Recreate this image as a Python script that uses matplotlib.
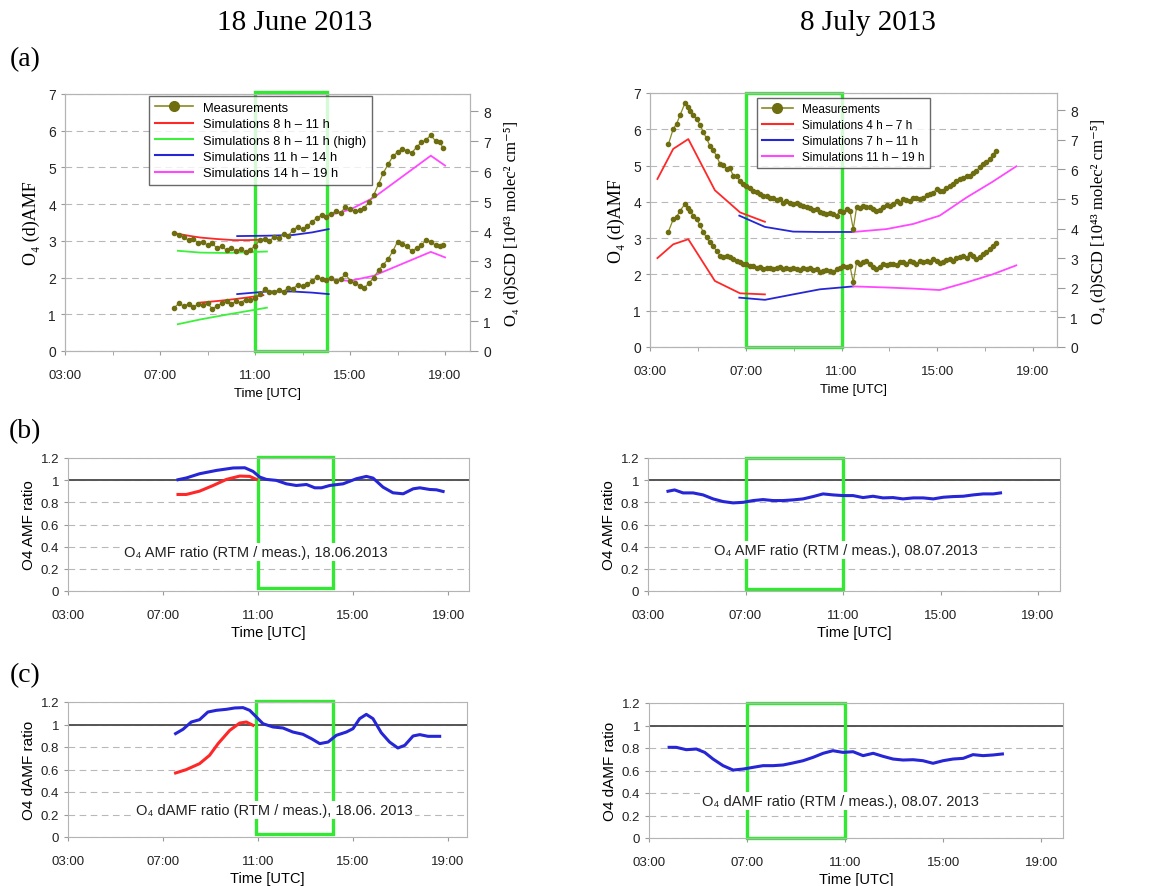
import matplotlib
matplotlib.use("Agg")
import matplotlib.pyplot as plt
from matplotlib.lines import Line2D
from matplotlib.patches import Rectangle

W, H = 1149, 887

# ---------------------------------------------------------------------------
# Data (hours UTC)
# ---------------------------------------------------------------------------
# (a) 18 June 2013 - measurements
jun_t = [7.6, 7.8, 8.0, 8.2, 8.4, 8.6, 8.8, 9.0, 9.2, 9.4, 9.6, 9.8, 10.0, 10.2,
         10.4, 10.6, 10.8, 11.0, 11.2, 11.4, 11.6, 11.8, 12.0, 12.2, 12.4, 12.6,
         12.8, 13.0, 13.2, 13.4, 13.6, 13.8, 14.0, 14.2, 14.4, 14.6, 14.8, 15.0,
         15.2, 15.4, 15.6, 15.8, 16.0, 16.2, 16.4, 16.6, 16.8, 17.0, 17.2, 17.4,
         17.6, 17.8, 18.0, 18.2, 18.4, 18.6, 18.8, 18.9]
jun_meas_hi = [3.22, 3.15, 3.10, 3.02, 3.05, 2.95, 2.98, 2.88, 2.93, 2.80, 2.86,
               2.74, 2.80, 2.72, 2.78, 2.70, 2.76, 2.86, 3.02, 3.06, 3.00, 3.10,
               3.08, 3.18, 3.14, 3.30, 3.38, 3.32, 3.40, 3.52, 3.62, 3.70, 3.66,
               3.74, 3.80, 3.76, 3.92, 3.86, 3.80, 3.84, 3.90, 4.05, 4.25, 4.55,
               4.85, 5.08, 5.30, 5.42, 5.50, 5.45, 5.40, 5.55, 5.68, 5.75, 5.88,
               5.72, 5.70, 5.52]
jun_meas_lo = [1.18, 1.30, 1.22, 1.28, 1.20, 1.27, 1.25, 1.30, 1.15, 1.22, 1.30,
               1.36, 1.28, 1.35, 1.32, 1.40, 1.38, 1.45, 1.55, 1.68, 1.62, 1.60,
               1.66, 1.62, 1.72, 1.70, 1.80, 1.76, 1.82, 1.90, 2.02, 1.96, 1.94,
               1.98, 1.90, 1.95, 2.10, 1.92, 1.85, 1.78, 1.72, 1.85, 2.00, 2.20,
               2.35, 2.50, 2.72, 2.98, 2.92, 2.85, 2.72, 2.80, 2.88, 3.02, 2.98,
               2.88, 2.85, 2.88]

# (a) 18 June 2013 - simulations
jun_red_t = [7.6, 8.2, 8.7, 9.4, 10.1, 10.7, 11.2]
jun_red_hi = [3.21, 3.14, 3.09, 3.05, 3.02, 3.02, 3.03]
jun_red_lo_t = [8.7, 9.4, 10.1, 10.7, 11.35]
jun_red_lo = [1.32, 1.36, 1.41, 1.46, 1.52]
jun_grn_t = [7.75, 8.7, 9.8, 10.7, 11.5]
jun_grn_hi = [2.73, 2.68, 2.67, 2.69, 2.71]
jun_grn_lo = [0.73, 0.86, 0.99, 1.09, 1.18]
jun_blu_t = [10.25, 11.5, 12.6, 13.4, 14.1]
jun_blu_hi = [3.13, 3.14, 3.16, 3.23, 3.32]
jun_blu_lo = [1.55, 1.62, 1.62, 1.59, 1.55]
jun_mag_t = [14.1, 15.0, 16.0, 18.4, 19.0]
jun_mag_hi = [3.70, 3.85, 4.18, 5.32, 5.05]
jun_mag_lo = [1.95, 1.91, 2.05, 2.70, 2.55]

# (a) 8 July 2013 - measurements
jul_t = [3.77, 3.97, 4.11, 4.25, 4.46, 4.60, 4.67, 4.81, 4.95, 5.09, 5.23, 5.36,
         5.50, 5.64, 5.78, 5.92, 6.06, 6.20, 6.34, 6.48, 6.62, 6.76, 6.90, 7.03,
         7.17, 7.31, 7.45, 7.59, 7.73, 7.87, 8.01, 8.15, 8.29, 8.43, 8.57, 8.70,
         8.84, 8.98, 9.12, 9.26, 9.40, 9.54, 9.68, 9.82, 9.96, 10.10, 10.23,
         10.37, 10.51, 10.65, 10.79, 10.93, 11.07, 11.21, 11.35, 11.49, 11.63,
         11.77, 11.90, 12.04, 12.18, 12.32, 12.46, 12.60, 12.74, 12.88, 13.02,
         13.16, 13.30, 13.43, 13.57, 13.71, 13.85, 13.99, 14.13, 14.27, 14.41,
         14.55, 14.69, 14.83, 14.97, 15.10, 15.24, 15.38, 15.52, 15.66, 15.80,
         15.94, 16.08, 16.22, 16.36, 16.50, 16.63, 16.77, 16.91, 17.05, 17.19,
         17.33, 17.44]
jul_meas_hi = [5.59, 6.01, 6.15, 6.38, 6.72, 6.62, 6.51, 6.40, 6.28, 6.12, 5.92,
               5.75, 5.55, 5.42, 5.27, 5.05, 5.01, 4.90, 4.92, 4.72, 4.70, 4.58,
               4.50, 4.44, 4.38, 4.31, 4.26, 4.21, 4.15, 4.17, 4.10, 4.12, 4.05,
               4.09, 3.98, 4.03, 3.98, 3.94, 3.96, 3.91, 3.88, 3.85, 3.82, 3.78,
               3.80, 3.71, 3.70, 3.66, 3.70, 3.66, 3.62, 3.75, 3.72, 3.80, 3.75,
               3.25, 3.85, 3.82, 3.89, 3.86, 3.85, 3.80, 3.75, 3.78, 3.85, 3.92,
               3.89, 3.95, 4.03, 3.98, 4.08, 4.05, 4.03, 4.10, 4.12, 4.08, 4.12,
               4.18, 4.21, 4.25, 4.35, 4.30, 4.31, 4.38, 4.44, 4.50, 4.58, 4.62,
               4.67, 4.70, 4.72, 4.80, 4.86, 4.95, 5.04, 5.10, 5.18, 5.30, 5.41]
jul_meas_lo = [3.18, 3.52, 3.58, 3.75, 3.94, 3.82, 3.75, 3.62, 3.52, 3.35, 3.16,
               3.02, 2.88, 2.78, 2.65, 2.52, 2.47, 2.50, 2.47, 2.42, 2.37, 2.33,
               2.28, 2.30, 2.24, 2.22, 2.19, 2.20, 2.14, 2.18, 2.19, 2.15, 2.19,
               2.21, 2.14, 2.17, 2.14, 2.18, 2.14, 2.12, 2.19, 2.16, 2.19, 2.13,
               2.14, 2.08, 2.10, 2.13, 2.10, 2.06, 2.14, 2.18, 2.24, 2.20, 2.24,
               1.78, 2.33, 2.30, 2.33, 2.36, 2.28, 2.20, 2.14, 2.20, 2.28, 2.25,
               2.30, 2.28, 2.26, 2.33, 2.35, 2.30, 2.37, 2.34, 2.30, 2.36, 2.35,
               2.38, 2.33, 2.42, 2.38, 2.32, 2.35, 2.40, 2.42, 2.38, 2.45, 2.48,
               2.51, 2.46, 2.56, 2.50, 2.42, 2.48, 2.56, 2.62, 2.70, 2.78, 2.86]

# (a) 8 July 2013 - simulations
jul_red_t = [3.31, 3.97, 4.60, 5.71, 6.76, 7.80]
jul_red_hi = [4.63, 5.46, 5.73, 4.32, 3.71, 3.45]
jul_red_lo = [2.45, 2.83, 2.97, 1.82, 1.48, 1.45]
jul_blu_t = [6.73, 7.80, 8.98, 10.10, 11.49]
jul_blu_hi = [3.62, 3.31, 3.18, 3.17, 3.17]
jul_blu_lo = [1.36, 1.30, 1.45, 1.59, 1.67]
jul_mag_t = [11.49, 12.88, 13.99, 15.10, 16.22, 17.30, 18.30]
jul_mag_hi = [3.17, 3.25, 3.39, 3.62, 4.12, 4.55, 4.98]
jul_mag_lo = [1.67, 1.64, 1.61, 1.57, 1.78, 2.00, 2.25]

# (b) AMF ratio
b_jun_blu_t = [7.63, 7.98, 8.54, 9.25, 9.95, 10.44, 10.79, 11.07, 11.35, 11.77,
               12.19, 12.61, 13.04, 13.39, 13.67, 14.02, 14.58, 15.14, 15.56,
               15.84, 16.26, 16.68, 17.11, 17.53, 17.81, 18.23, 18.51, 18.79]
b_jun_blu = [1.004, 1.02, 1.058, 1.088, 1.11, 1.112, 1.079, 1.028, 1.007, 0.998,
             0.967, 0.952, 0.961, 0.931, 0.931, 0.952, 0.967, 1.013, 1.034,
             1.019, 0.937, 0.886, 0.877, 0.922, 0.931, 0.916, 0.913, 0.898]
b_jun_red_t = [7.63, 7.98, 8.54, 9.11, 9.67, 10.23, 10.65, 10.93]
b_jun_red = [0.871, 0.871, 0.901, 0.952, 1.007, 1.037, 1.034, 1.007]
b_jul_t = [3.82, 4.09, 4.44, 4.85, 5.26, 5.67, 6.08, 6.49, 6.90, 7.31, 7.72,
           8.13, 8.54, 8.95, 9.36, 9.77, 10.18, 10.59, 10.99, 11.41, 11.82,
           12.23, 12.64, 13.05, 13.46, 13.88, 14.29, 14.70, 15.11, 15.52, 15.93,
           16.34, 16.75, 17.16, 17.46]
b_jul = [0.90, 0.912, 0.885, 0.885, 0.867, 0.831, 0.807, 0.795, 0.80, 0.816,
         0.825, 0.816, 0.816, 0.822, 0.831, 0.852, 0.876, 0.867, 0.861, 0.861,
         0.843, 0.855, 0.840, 0.843, 0.831, 0.840, 0.840, 0.831, 0.846, 0.852,
         0.855, 0.867, 0.876, 0.876, 0.885]

# (c) dAMF ratio
c_jun_blu_t = [7.53, 7.84, 8.19, 8.54, 8.89, 9.25, 9.67, 10.02, 10.37, 10.65,
               10.93, 11.21, 11.63, 12.05, 12.47, 12.89, 13.25, 13.60, 13.95,
               14.30, 14.72, 15.00, 15.28, 15.56, 15.84, 16.19, 16.54, 16.89,
               17.18, 17.53, 17.81, 18.16, 18.65]
c_jun_blu = [0.919, 0.957, 1.022, 1.043, 1.111, 1.126, 1.135, 1.147, 1.150,
             1.126, 1.067, 1.007, 0.978, 0.969, 0.933, 0.913, 0.874, 0.830,
             0.844, 0.904, 0.933, 0.963, 1.052, 1.090, 1.052, 0.927, 0.844,
             0.791, 0.815, 0.898, 0.910, 0.895, 0.895]
c_jun_red_t = [7.53, 7.98, 8.54, 8.96, 9.32, 9.81, 10.23, 10.51, 10.79]
c_jun_red = [0.569, 0.599, 0.652, 0.726, 0.830, 0.948, 1.013, 1.022, 0.993]
c_jul_t = [3.82, 4.11, 4.52, 4.93, 5.27, 5.61, 6.02, 6.43, 6.84, 7.24, 7.65,
           8.06, 8.47, 8.87, 9.28, 9.69, 10.10, 10.50, 10.91, 11.32, 11.73,
           12.14, 12.54, 12.95, 13.36, 13.77, 14.17, 14.58, 14.99, 15.40, 15.81,
           16.21, 16.62, 17.03, 17.41]
c_jul = [0.806, 0.806, 0.785, 0.791, 0.761, 0.702, 0.643, 0.604, 0.613, 0.628,
         0.643, 0.643, 0.649, 0.667, 0.687, 0.717, 0.753, 0.776, 0.761, 0.767,
         0.732, 0.753, 0.726, 0.702, 0.693, 0.696, 0.687, 0.664, 0.687, 0.702,
         0.708, 0.741, 0.732, 0.738, 0.747]

hour_ticks = [3, 7, 11, 15, 19]
hour_labels = ["03:00", "07:00", "11:00", "15:00", "19:00"]
ratio_ticks = [0, 0.2, 0.4, 0.6, 0.8, 1.0, 1.2]
ratio_labels = ["0", "0.2", "0.4", "0.6", "0.8", "1", "1.2"]

# ---------------------------------------------------------------------------
# Style
# ---------------------------------------------------------------------------
SANS = ["Liberation Sans", "DejaVu Sans"]
SERIF = ["Liberation Serif", "DejaVu Serif"]
plt.rcParams.update({
    "font.family": SANS,
    "axes.edgecolor": "#b4b4b4",
    "xtick.color": "#9a9a9a",
    "ytick.color": "#9a9a9a",
    "xtick.labelcolor": "#222222",
    "ytick.labelcolor": "#222222",
    "xtick.major.size": 3,
    "ytick.major.size": 3,
    "xtick.minor.size": 3,
})

C_MEAS = "#8a8a22"
C_MEAS_DOT = "#6e6e10"
C_RED = "#ff2828"
C_GREEN = "#3cf03c"
C_BLUE = "#2626d6"
C_MAG = "#ff48ff"
C_BOX = "#33e833"
GRID = dict(color="#b8b8b8", linestyle=(0, (6, 4)), linewidth=0.8)


def px_axes(x0, y0, x1, y1):
    return fig.add_axes([x0 / W, 1 - y1 / H, (x1 - x0) / W, (y1 - y0) / H])


def green_box(ax, x0, x1, y0, y1):
    ax.add_patch(Rectangle((x0, y0), x1 - x0, y1 - y0, fill=False,
                           edgecolor=C_BOX, linewidth=2.4, clip_on=False,
                           zorder=2))


def meas(ax, t, v):
    ax.plot(t, v, color=C_MEAS, linewidth=0.9, marker="o", markersize=3.0,
            markerfacecolor=C_MEAS_DOT, markeredgecolor=C_MEAS_DOT, zorder=4)


def panel_a(ax, xmax, sims, legend_labels, legend_xy, leg_fs, leg_hl):
    ax.set_xlim(3, xmax)
    ax.set_ylim(0, 7)
    ax.set_yticks(range(8))
    ax.set_xticks(hour_ticks)
    ax.set_xticklabels(hour_labels, fontsize=9.5)
    ax.set_xticks([5, 9, 13, 17], minor=True)
    ax.tick_params(axis="x", which="major", pad=10)
    ax.tick_params(axis="y", labelsize=10)
    ax.yaxis.grid(True, **GRID)
    ax.set_axisbelow(True)
    ax.set_xlabel("Time [UTC]", fontsize=9.5, labelpad=4)
    ax.set_ylabel("O\u2084 (d)AMF", family=SERIF, fontsize=13, labelpad=6)
    for t, v, c in sims:
        ax.plot(t, v, color=c, linewidth=1.3, zorder=3)
    axr = ax.twinx()
    axr.set_ylim(0, 8.58)
    axr.set_yticks(range(9))
    axr.tick_params(axis="y", labelsize=10, length=6)
    axr.spines["right"].set_color("#b4b4b4")
    axr.set_ylabel("O\u2084 (d)SCD [10\u2074\u00b3 molec\u00b2 cm\u207b\u2075]",
                   family=SERIF, fontsize=12, labelpad=9)
    handles = [Line2D([], [], color=C_MEAS, linewidth=1.2, marker="o",
                      markersize=7, markerfacecolor=C_MEAS_DOT,
                      markeredgecolor=C_MEAS_DOT)]
    for lab, c in legend_labels:
        handles.append(Line2D([], [], color=c, linewidth=1.5))
    leg = ax.legend(handles, ["Measurements"] + [l for l, _ in legend_labels],
                    loc="upper left", bbox_to_anchor=legend_xy, fontsize=leg_fs,
                    frameon=True, fancybox=False, handlelength=leg_hl,
                    labelspacing=0.33, borderpad=0.45, handletextpad=0.8,
                    borderaxespad=0)
    leg.get_frame().set_edgecolor("#444444")
    leg.get_frame().set_linewidth(1.0)
    leg.set_zorder(6)


def panel_ratio(ax, xmax, series, ylabel, note, note_xy):
    ax.set_xlim(3, xmax)
    ax.set_ylim(0, 1.2)
    ax.set_yticks(ratio_ticks)
    ax.set_yticklabels(ratio_labels)
    ax.set_xticks(hour_ticks)
    ax.set_xticklabels(hour_labels)
    ax.tick_params(labelsize=9.5)
    ax.tick_params(axis="x", pad=10)
    ax.yaxis.grid(True, **GRID)
    ax.set_axisbelow(True)
    ax.axhline(1.0, color="#555555", linewidth=1.4, zorder=1)
    for t, v, c in series:
        ax.plot(t, v, color=c, linewidth=2.2, zorder=4)
    ax.set_ylabel(ylabel, fontsize=11, labelpad=3)
    ax.set_xlabel("Time [UTC]", fontsize=10.5, labelpad=3)
    ax.text(note_xy[0], note_xy[1], note, ha="center", va="center",
            fontsize=10.5, color="#222222", zorder=5,
            bbox=dict(facecolor="white", edgecolor="none", pad=1.5))


fig = plt.figure(figsize=(W / 100, H / 100), dpi=100)

# ---------------------------------------------------------------------------
# (a)
# ---------------------------------------------------------------------------
ax = px_axes(65, 95, 470, 352)
green_box(ax, 11.0, 14.05, 0, 7.05)
meas(ax, jun_t, jun_meas_hi)
meas(ax, jun_t, jun_meas_lo)
panel_a(ax, 20.05,
        [(jun_red_t, jun_red_hi, C_RED), (jun_red_lo_t, jun_red_lo, C_RED),
         (jun_grn_t, jun_grn_hi, C_GREEN), (jun_grn_t, jun_grn_lo, C_GREEN),
         (jun_blu_t, jun_blu_hi, C_BLUE), (jun_blu_t, jun_blu_lo, C_BLUE),
         (jun_mag_t, jun_mag_hi, C_MAG), (jun_mag_t, jun_mag_lo, C_MAG)],
        [("Simulations 8 h \u2013 11 h", C_RED),
         ("Simulations 8 h \u2013 11 h (high)", C_GREEN),
         ("Simulations 11 h \u2013 14 h", C_BLUE),
         ("Simulations 14 h \u2013 19 h", C_MAG)],
        (0.208, 0.992), 9.3, 2.9)

ax = px_axes(650, 94, 1057, 348)
green_box(ax, 7.0, 11.0, 0, 7.0)
meas(ax, jul_t, jul_meas_hi)
meas(ax, jul_t, jul_meas_lo)
panel_a(ax, 20.0,
        [(jul_red_t, jul_red_hi, C_RED), (jul_red_t, jul_red_lo, C_RED),
         (jul_blu_t, jul_blu_hi, C_BLUE), (jul_blu_t, jul_blu_lo, C_BLUE),
         (jul_mag_t, jul_mag_hi, C_MAG), (jul_mag_t, jul_mag_lo, C_MAG)],
        [("Simulations 4 h \u2013 7 h", C_RED),
         ("Simulations 7 h \u2013 11 h", C_BLUE),
         ("Simulations 11 h \u2013 19 h", C_MAG)],
        (0.262, 0.980), 8.5, 2.6)

# ---------------------------------------------------------------------------
# (b)
# ---------------------------------------------------------------------------
ax = px_axes(68, 459, 469, 592)
green_box(ax, 11.0, 14.15, 0.025, 1.21)
panel_ratio(ax, 19.88,
            [(b_jun_red_t, b_jun_red, C_RED), (b_jun_blu_t, b_jun_blu, C_BLUE)],
            "O4 AMF ratio",
            "O\u2084 AMF ratio (RTM / meas.), 18.06.2013", (10.9, 0.35))

ax = px_axes(648, 459, 1060, 592)
green_box(ax, 7.0, 11.0, 0.015, 1.2)
panel_ratio(ax, 19.9, [(b_jul_t, b_jul, C_BLUE)],
            "O4 AMF ratio",
            "O\u2084 AMF ratio (RTM / meas.), 08.07.2013", (11.1, 0.37))

# ---------------------------------------------------------------------------
# (c)
# ---------------------------------------------------------------------------
ax = px_axes(68, 703, 467, 838)
green_box(ax, 10.9, 14.15, 0.025, 1.21)
panel_ratio(ax, 19.8,
            [(c_jun_red_t, c_jun_red, C_RED), (c_jun_blu_t, c_jun_blu, C_BLUE)],
            "O4 dAMF ratio",
            "O\u2084 dAMF ratio (RTM / meas.), 18.06. 2013", (11.7, 0.24))

ax = px_axes(649, 704, 1063, 839)
green_box(ax, 7.0, 11.0, 0, 1.2)
panel_ratio(ax, 19.88, [(c_jul_t, c_jul, C_BLUE)],
            "O4 dAMF ratio",
            "O\u2084 dAMF ratio (RTM / meas.), 08.07. 2013", (10.8, 0.33))

# Titles and panel letters
fig.text(295 / W, 1 - 23 / H, "18 June 2013", family=SERIF, fontsize=21,
         ha="center", va="center")
fig.text(868 / W, 1 - 23 / H, "8 July 2013", family=SERIF, fontsize=21,
         ha="center", va="center")
for lab, y in (("(a)", 60), ("(b)", 432), ("(c)", 676)):
    fig.text(25 / W, 1 - y / H, lab, family=SERIF, fontsize=20,
             ha="center", va="center")

fig.savefig("out.png", dpi=100)
